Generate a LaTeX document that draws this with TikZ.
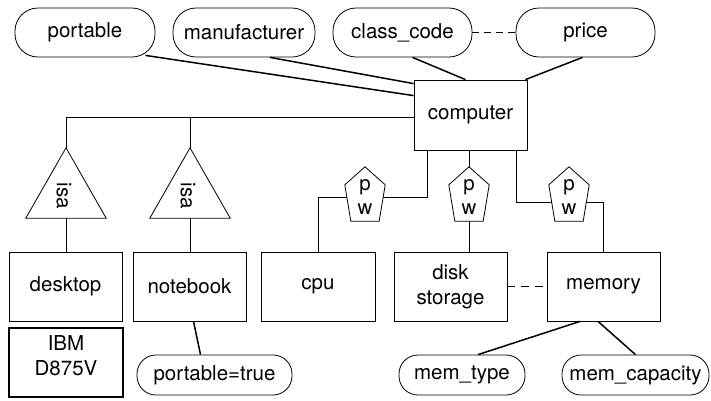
\documentclass[tikz,border=0pt]{standalone}
\usepackage{fontspec}
\setmainfont{TeX Gyre Heros}
\usetikzlibrary{calc}

\tikzset{
  thinline/.style={line width=0.8pt},
  attrline/.style={line width=1.5pt},
  entity/.style={draw, thinline, rectangle, minimum height=69pt, inner sep=0pt, align=center},
  pill/.style={draw, thinline, rectangle, rounded corners=23pt, minimum height=49pt, inner sep=0pt},
  smallpill/.style={draw, thinline, rectangle, rounded corners=19pt, minimum height=40pt, inner sep=0pt},
  isabox/.style={rectangle, minimum width=80pt, minimum height=70pt, inner sep=0pt},
  pwbox/.style={rectangle, minimum width=40pt, minimum height=54pt, inner sep=0pt},
  pwtext/.style={label={[yshift=-3pt, align=center, inner sep=0pt]center:p\\[-1pt]w}},
  dashline/.style={thinline, dash pattern=on 7pt off 5pt},
}

% pentagon outline drawn round a pw node
\newcommand{\pwoutline}[1]{%
  \draw[thinline] (#1.north) -- ($(#1.north west)+(0,18)$) -- ($(#1.south west)+(6,0)$)
    -- ($(#1.south east)+(-6,0)$) -- ($(#1.north east)+(0,18)$) -- cycle;}
% triangle outline drawn round an isa node
\newcommand{\isaoutline}[1]{%
  \draw[thinline] (#1.north) -- (#1.south west) -- (#1.south east) -- cycle;}

\begin{document}
\begin{tikzpicture}[x=1pt, y=-1pt, font=\fontsize{20.5}{25}\selectfont]
\useasboundingbox (0,0) rectangle (711,400);

% attributes of computer
\node[pill, minimum width=140pt] (portable) at (85,32.5) {portable};
\node[pill, minimum width=142pt] (manuf) at (244,32.5) {manufacturer};
\node[pill, minimum width=139pt] (classcode) at (402.5,32.5) {class\_code};
\node[pill, minimum width=139pt] (price) at (585.5,32.5) {price};

% entities
\node[entity, minimum width=113pt, minimum height=70pt] (computer) at (470.5,115) {computer};
\node[entity, minimum width=113pt] (desktop) at (65.5,286.5) {desktop};
\node[entity, minimum width=113pt] (notebook) at (189.5,286.5) {notebook};
\node[entity, minimum width=114pt] (cpu) at (318,286.5) {cpu};
\node[entity, minimum width=113pt] (disk) at (450.5,286.5) {disk\\storage};
\node[entity, minimum width=113pt] (memory) at (603.5,286.5) {memory};

% instance
\node[entity, minimum width=114pt, line width=2.4pt,
      label={[yshift=7pt, align=center]center:IBM\\D875V}] (ibm) at (66,362.5) {};

% lower attributes
\node[smallpill, minimum width=155pt] (ptrue) at (214.5,375) {portable=true};
\node[smallpill, minimum width=126pt] (memtype) at (462,375) {mem\_type};
\node[smallpill, minimum width=147pt] (memcap) at (635.5,375) {mem\_capacity};

% isa triangles
\node[isabox] (isa1) at (66,183) {};
\node[isabox] (isa2) at (190,183) {};
\isaoutline{isa1}
\isaoutline{isa2}
\node[rotate=-90, inner sep=0pt] (isa1t) at ($(isa1.center)+(-2,13)$) {isa};
\node[rotate=-90, inner sep=0pt] (isa2t) at ($(isa2.center)+(-2,13)$) {isa};

% part-whole pentagons
\node[pwbox, pwtext] (pw1) at (365,194) {};
\node[pwbox, pwtext] (pw2) at (469,194) {};
\node[pwbox, pwtext] (pw3) at (569,194) {};
\pwoutline{pw1}
\pwoutline{pw2}
\pwoutline{pw3}

% attribute links
\draw[attrline] ($(portable.south east)+(-10,-2)$) -- ($(computer.north west)+(0,16)$);
\draw[attrline] ($(manuf.south)+(26,0)$) -- ($(computer.north west)+(0,4)$);
\draw[attrline] ($(classcode.south)+(10,0)$) -- ($(computer.north)+(-5,0)$);
\draw[attrline] ($(price.south)+(-3,0)$) -- ($(computer.north east)+(-2,0)$);
\draw[dashline] (classcode.east) -- (price.west);

% isa hierarchy
\coordinate (hub) at ($(computer.west)+(0,2)$);
\draw[thinline] (hub) -| (isa1.north);
\draw[thinline] (isa2.north) -- (isa2.north |- hub);
\draw[thinline] (isa1.south) -- (desktop.north -| isa1.south);
\draw[thinline] (isa2.south) -- (notebook.north -| isa2.south);

% part-whole links
\draw[thinline] ($(computer.south west)+(14,0)$) |- ($(pw1.east)+(-2,3)$);
\draw[thinline] ($(pw1.west)+(2,3)$) -| (cpu.north);
\draw[thinline] (pw2.north |- computer.south) -- (pw2.north);
\draw[thinline] (pw2.south) -- (pw2.south |- disk.north);
\draw[thinline] ($(computer.south east)+(-11,0)$) |- ($(pw3.west)+(3,8)$);
\draw[thinline] ($(pw3.east)+(-3,8)$) -| (memory.north);

% lower links
\draw[attrline] ($(notebook.south)+(4,0)$) -- ($(ptrue.north)+(-14,0)$);
\draw[attrline] ($(memory.south)+(-23.5,0)$) -- ($(memtype.north)+(16,0)$);
\draw[attrline] ($(memory.south)+(-5.5,0)$) -- (memcap.north);
\draw[thinline, line width=1.2pt, dash pattern=on 8pt off 6pt] (disk.east) -- (memory.west);
\end{tikzpicture}
\end{document}
